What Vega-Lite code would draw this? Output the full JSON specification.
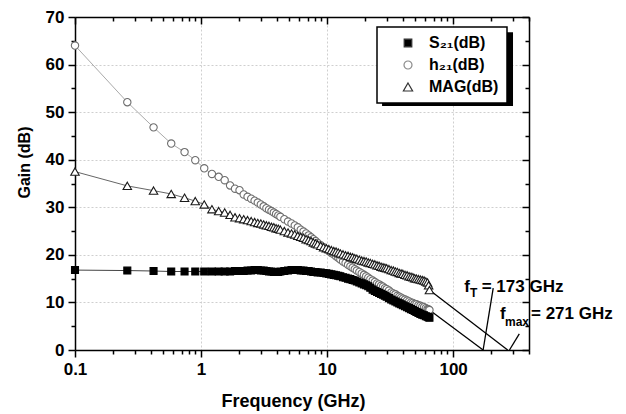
{
  "$schema": "https://vega.github.io/schema/vega-lite/v6.json",
  "width": 454,
  "height": 333,
  "autosize": {"type": "none"},
  "padding": {"left": 75, "top": 17, "right": 97, "bottom": 64},
  "background": "white",
  "config": {
    "font": "Liberation Sans",
    "view": {"stroke": null},
    "axis": {
      "domainColor": "black", "domainWidth": 1.5,
      "tickColor": "black", "tickWidth": 1.5,
      "labelFont": "Liberation Sans", "labelFontSize": 17, "labelFontWeight": "bold", "labelColor": "black",
      "titleFont": "Liberation Sans", "titleFontWeight": "bold", "titleColor": "black",
      "gridColor": "#cfcfcf", "gridDash": [2, 2], "gridWidth": 1
    }
  },
  "datasets": {
    "meas": [
      {"f": 0.1, "S21": 16.8, "h21": 64.0, "MAG": 37.5},
      {"f": 0.26, "S21": 16.7, "h21": 52.1, "MAG": 34.5},
      {"f": 0.42, "S21": 16.6, "h21": 46.8, "MAG": 33.5},
      {"f": 0.58, "S21": 16.5, "h21": 43.4, "MAG": 32.8},
      {"f": 0.74, "S21": 16.5, "h21": 41.6, "MAG": 32.0},
      {"f": 0.9, "S21": 16.5, "h21": 39.9, "MAG": 31.3},
      {"f": 1.06, "S21": 16.5, "h21": 38.2, "MAG": 30.6},
      {"f": 1.22, "S21": 16.5, "h21": 37.0, "MAG": 29.6},
      {"f": 1.38, "S21": 16.5, "h21": 36.4, "MAG": 29.2},
      {"f": 1.54, "S21": 16.5, "h21": 35.7, "MAG": 28.9},
      {"f": 1.7, "S21": 16.5, "h21": 34.6, "MAG": 28.4},
      {"f": 1.86, "S21": 16.6, "h21": 33.9, "MAG": 27.9},
      {"f": 2.02, "S21": 16.6, "h21": 33.6, "MAG": 27.7},
      {"f": 2.18, "S21": 16.6, "h21": 32.7, "MAG": 27.5},
      {"f": 2.34, "S21": 16.7, "h21": 32.2, "MAG": 27.3},
      {"f": 2.5, "S21": 16.7, "h21": 31.8, "MAG": 27.1},
      {"f": 2.66, "S21": 16.8, "h21": 31.4, "MAG": 26.9},
      {"f": 2.82, "S21": 16.8, "h21": 31.0, "MAG": 26.7},
      {"f": 2.98, "S21": 16.7, "h21": 30.6, "MAG": 26.6},
      {"f": 3.14, "S21": 16.7, "h21": 30.2, "MAG": 26.4},
      {"f": 3.3, "S21": 16.6, "h21": 29.8, "MAG": 26.2},
      {"f": 3.46, "S21": 16.5, "h21": 29.5, "MAG": 26.1},
      {"f": 3.62, "S21": 16.5, "h21": 29.2, "MAG": 25.9},
      {"f": 3.78, "S21": 16.4, "h21": 28.9, "MAG": 25.8},
      {"f": 3.94, "S21": 16.4, "h21": 28.6, "MAG": 25.6},
      {"f": 4.1, "S21": 16.4, "h21": 28.3, "MAG": 25.5},
      {"f": 4.26, "S21": 16.5, "h21": 28.0, "MAG": 25.3},
      {"f": 4.58, "S21": 16.6, "h21": 27.5, "MAG": 25.0},
      {"f": 4.9, "S21": 16.7, "h21": 27.0, "MAG": 24.7},
      {"f": 5.22, "S21": 16.8, "h21": 26.6, "MAG": 24.5},
      {"f": 5.54, "S21": 16.8, "h21": 26.2, "MAG": 24.3},
      {"f": 5.86, "S21": 16.8, "h21": 25.8, "MAG": 24.0},
      {"f": 6.18, "S21": 16.7, "h21": 25.3, "MAG": 23.8},
      {"f": 6.5, "S21": 16.7, "h21": 24.9, "MAG": 23.6},
      {"f": 6.82, "S21": 16.6, "h21": 24.5, "MAG": 23.3},
      {"f": 7.14, "S21": 16.6, "h21": 24.1, "MAG": 23.1},
      {"f": 7.46, "S21": 16.5, "h21": 23.7, "MAG": 22.9},
      {"f": 7.78, "S21": 16.4, "h21": 23.3, "MAG": 22.6},
      {"f": 8.1, "S21": 16.4, "h21": 22.9, "MAG": 22.4},
      {"f": 8.42, "S21": 16.3, "h21": 22.5, "MAG": 22.2},
      {"f": 8.9, "S21": 16.3, "h21": 22.0, "MAG": 21.9},
      {"f": 9.38, "S21": 16.2, "h21": 21.6, "MAG": 21.6},
      {"f": 9.86, "S21": 16.1, "h21": 21.2, "MAG": 21.4},
      {"f": 10.34, "S21": 16.0, "h21": 20.8, "MAG": 21.2},
      {"f": 10.82, "S21": 15.9, "h21": 20.4, "MAG": 21.0},
      {"f": 11.3, "S21": 15.8, "h21": 20.1, "MAG": 20.8},
      {"f": 11.78, "S21": 15.7, "h21": 19.7, "MAG": 20.7},
      {"f": 12.26, "S21": 15.6, "h21": 19.4, "MAG": 20.5},
      {"f": 12.74, "S21": 15.5, "h21": 19.0, "MAG": 20.3},
      {"f": 13.38, "S21": 15.3, "h21": 18.6, "MAG": 20.1},
      {"f": 14.02, "S21": 15.2, "h21": 18.3, "MAG": 19.9},
      {"f": 14.66, "S21": 15.0, "h21": 17.9, "MAG": 19.8},
      {"f": 15.3, "S21": 14.9, "h21": 17.6, "MAG": 19.6},
      {"f": 15.94, "S21": 14.7, "h21": 17.3, "MAG": 19.5},
      {"f": 16.58, "S21": 14.6, "h21": 17.0, "MAG": 19.3},
      {"f": 17.22, "S21": 14.4, "h21": 16.7, "MAG": 19.2},
      {"f": 18.02, "S21": 14.2, "h21": 16.4, "MAG": 19.0},
      {"f": 18.82, "S21": 14.0, "h21": 16.1, "MAG": 18.8},
      {"f": 19.62, "S21": 13.8, "h21": 15.8, "MAG": 18.7},
      {"f": 20.42, "S21": 13.6, "h21": 15.5, "MAG": 18.6},
      {"f": 21.22, "S21": 13.4, "h21": 15.2, "MAG": 18.4},
      {"f": 22.02, "S21": 13.1, "h21": 14.9, "MAG": 18.3},
      {"f": 22.98, "S21": 12.7, "h21": 14.6, "MAG": 18.1},
      {"f": 23.94, "S21": 12.4, "h21": 14.3, "MAG": 18.0},
      {"f": 24.9, "S21": 12.2, "h21": 14.0, "MAG": 17.8},
      {"f": 25.86, "S21": 12.0, "h21": 13.8, "MAG": 17.7},
      {"f": 26.82, "S21": 11.8, "h21": 13.5, "MAG": 17.5},
      {"f": 27.78, "S21": 11.6, "h21": 13.3, "MAG": 17.4},
      {"f": 28.74, "S21": 11.4, "h21": 13.0, "MAG": 17.3},
      {"f": 29.7, "S21": 11.2, "h21": 12.8, "MAG": 17.2},
      {"f": 30.98, "S21": 10.9, "h21": 12.5, "MAG": 17.0},
      {"f": 32.26, "S21": 10.6, "h21": 12.1, "MAG": 16.8},
      {"f": 33.54, "S21": 10.4, "h21": 11.9, "MAG": 16.7},
      {"f": 34.82, "S21": 10.2, "h21": 11.7, "MAG": 16.5},
      {"f": 36.1, "S21": 10.0, "h21": 11.4, "MAG": 16.4},
      {"f": 37.38, "S21": 9.8, "h21": 11.2, "MAG": 16.2},
      {"f": 38.66, "S21": 9.6, "h21": 11.0, "MAG": 16.1},
      {"f": 39.94, "S21": 9.4, "h21": 10.8, "MAG": 16.0},
      {"f": 41.54, "S21": 9.2, "h21": 10.6, "MAG": 15.8},
      {"f": 43.14, "S21": 9.0, "h21": 10.4, "MAG": 15.7},
      {"f": 44.74, "S21": 8.8, "h21": 10.2, "MAG": 15.5},
      {"f": 46.34, "S21": 8.6, "h21": 10.0, "MAG": 15.4},
      {"f": 47.94, "S21": 8.4, "h21": 9.9, "MAG": 15.3},
      {"f": 49.54, "S21": 8.2, "h21": 9.7, "MAG": 15.1},
      {"f": 51.14, "S21": 8.0, "h21": 9.6, "MAG": 15.0},
      {"f": 53.06, "S21": 7.8, "h21": 9.4, "MAG": 14.9},
      {"f": 54.98, "S21": 7.6, "h21": 9.3, "MAG": 14.8},
      {"f": 56.9, "S21": 7.4, "h21": 9.1, "MAG": 14.7},
      {"f": 58.82, "S21": 7.3, "h21": 9.0, "MAG": 14.6},
      {"f": 60.74, "S21": 7.1, "h21": 8.8, "MAG": 14.4},
      {"f": 62.66, "S21": 7.0, "h21": 8.6, "MAG": 14.2},
      {"f": 63.94, "S21": 6.9, "h21": 8.5, "MAG": 13.6},
      {"f": 64.9, "S21": 6.8, "h21": 8.4, "MAG": 12.6}
    ],
    "extrap": [
      {"f": 64.9, "g": 8.4, "grp": "fT"},
      {"f": 173, "g": 0, "grp": "fT"},
      {"f": 64.9, "g": 12.6, "grp": "fmax"},
      {"f": 271, "g": 0, "grp": "fmax"}
    ],
    "arrows": [
      {"f1": 173, "g1": 0, "f2": 208, "g2": 13.0},
      {"f1": 280, "g1": 0, "f2": 335, "g2": 3.4}
    ],
    "notes": [
      {"f": 122.7, "g": 12.1, "txt": "f", "kind": "main"},
      {"f": 136.2, "g": 11.1, "txt": "T", "kind": "sub"},
      {"f": 168.5, "g": 12.1, "txt": "= 173 GHz", "kind": "main"},
      {"f": 235.5, "g": 6.45, "txt": "f", "kind": "main"},
      {"f": 258, "g": 5.05, "txt": "max", "kind": "sub"},
      {"f": 415, "g": 6.45, "txt": "= 271 GHz", "kind": "main"}
    ]
  },
  "layer": [
    {
      "data": {"values": [{"box": "shadow"}]},
      "mark": {"type": "rect", "color": "black"},
      "encoding": {
        "x": {"datum": 27.3, "type": "quantitative", "axis": null},
        "x2": {"datum": 298.7},
        "y": {"datum": 66.8, "type": "quantitative", "axis": null},
        "y2": {"datum": 51.3}
      }
    },
    {
      "data": {"name": "meas"},
      "transform": [{"fold": ["S21", "h21", "MAG"], "as": ["series", "gain"]}],
      "mark": {"type": "line", "strokeWidth": 1},
      "encoding": {
        "x": {
          "field": "f", "type": "quantitative",
          "scale": {"type": "log", "domain": [0.1, 400], "nice": false},
          "axis": {
            "orient": "bottom",
            "values": [0.1,0.2,0.3,0.4,0.5,0.6,0.7,0.8,0.9,1,2,3,4,5,6,7,8,9,10,20,30,40,50,60,70,80,90,100,200,300,400],
            "labelExpr": "datum.value === 0.1 ? '0.1' : datum.value === 1 ? '1' : datum.value === 10 ? '10' : datum.value === 100 ? '100' : ''",
            "tickSize": {"condition": {"test": "datum.value === 0.1 || datum.value === 1 || datum.value === 10 || datum.value === 100", "value": 7}, "value": 4},
            "grid": true,
            "gridOpacity": {"condition": {"test": "datum.value === 1 || datum.value === 10 || datum.value === 100", "value": 1}, "value": 0},
            "labelFlush": false, "labelOverlap": false, "labelPadding": 4,
            "title": "Frequency (GHz)", "titleFontSize": 18,
            "titleX": 218, "titleY": 56, "titleBaseline": "alphabetic"
          }
        },
        "y": {
          "field": "gain", "type": "quantitative",
          "scale": {"domain": [0, 70], "nice": false, "zero": false},
          "axis": {
            "orient": "left",
            "values": [0,5,10,15,20,25,30,35,40,45,50,55,60,65,70],
            "labelExpr": "datum.value % 10 === 0 ? datum.label : ''",
            "tickSize": {"condition": {"test": "datum.value % 10 === 0", "value": 7}, "value": 4},
            "grid": true,
            "gridOpacity": {"condition": {"test": "datum.value % 10 === 0 && datum.value > 0 && datum.value < 70", "value": 1}, "value": 0},
            "labelPadding": 4, "labelOverlap": false,
            "title": "Gain (dB)", "titleFontSize": 16,
            "titleX": -43, "titleY": 145
          }
        },
        "detail": {"field": "series", "type": "nominal"},
        "color": {
          "condition": [
            {"test": "datum.series === 'S21'", "value": "#444444"},
            {"test": "datum.series === 'h21'", "value": "#aaaaaa"}
          ],
          "value": "#666666"
        }
      }
    },
    {
      "data": {"name": "extrap"},
      "mark": {"type": "line", "color": "black", "strokeWidth": 1.3},
      "encoding": {
        "x": {
          "field": "f", "type": "quantitative",
          "axis": {
            "orient": "top",
            "values": [0.1,0.2,0.3,0.4,0.5,0.6,0.7,0.8,0.9,1,2,3,4,5,6,7,8,9,10,20,30,40,50,60,70,80,90,100,200,300,400],
            "labels": false, "grid": false, "title": null,
            "tickSize": {"condition": {"test": "datum.value === 0.1 || datum.value === 1 || datum.value === 10 || datum.value === 100", "value": -7}, "value": -4}
          }
        },
        "y": {
          "field": "g", "type": "quantitative",
          "axis": {
            "orient": "right",
            "values": [0,5,10,15,20,25,30,35,40,45,50,55,60,65,70],
            "labels": false, "grid": false, "title": null,
            "tickSize": {"condition": {"test": "datum.value % 10 === 0", "value": -7}, "value": -4}
          }
        },
        "detail": {"field": "grp", "type": "nominal"}
      }
    },
    {
      "data": {"name": "arrows"},
      "mark": {"type": "rule", "color": "black", "strokeWidth": 1.3},
      "encoding": {
        "x": {"field": "f1", "type": "quantitative", "axis": null},
        "y": {"field": "g1", "type": "quantitative", "axis": null},
        "x2": {"field": "f2"},
        "y2": {"field": "g2"}
      }
    },
    {
      "data": {"name": "meas"},
      "transform": [{"fold": ["S21", "h21", "MAG"], "as": ["series", "gain"]}],
      "mark": {"type": "point", "filled": true, "strokeWidth": 1.1, "opacity": 1, "size": 54},
      "encoding": {
        "x": {"field": "f", "type": "quantitative", "axis": null},
        "y": {"field": "gain", "type": "quantitative", "axis": null},
        "order": {"field": "series", "sort": "descending"},
        "shape": {
          "field": "series", "type": "nominal",
          "scale": {"domain": ["S21", "h21", "MAG"], "range": ["M-0.95,-0.95H0.95V0.95H-0.95Z", "M-1,0A1,1,0,1,0,1,0A1,1,0,1,0,-1,0Z", "M0,-1L1.15,1L-1.15,1Z"]},
          "legend": {
            "orient": "none", "legendX": 302, "legendY": 10, "zindex": 5,
            "title": null,
            "labelExpr": "datum.label === 'S21' ? 'S₂₁(dB)' : datum.label === 'h21' ? 'h₂₁(dB)' : 'MAG(dB)'",
            "labelFont": "Liberation Sans", "labelFontSize": 16, "labelFontWeight": "bold", "labelColor": "black",
            "symbolSize": 100, "symbolOffset": 15, "labelOffset": 13,
            "rowPadding": 6, "padding": 8,
            "fillColor": "white", "strokeColor": "black",
            "encoding": {
              "legend": {"strokeWidth": {"value": 1.5}},
              "symbols": {
                "fill": {"condition": {"test": "datum.value === 'S21'", "value": "black"}, "value": "white"},
                "stroke": {
                  "condition": [
                    {"test": "datum.value === 'S21'", "value": "#333333"},
                    {"test": "datum.value === 'h21'", "value": "#8a8a8a"}
                  ],
                  "value": "#333333"
                },
                "strokeWidth": {"value": 1.2},
                "size": {"value": 64},
                "opacity": {"value": 1}
              }
            }
          }
        },
        "fill": {
          "condition": {"test": "datum.series === 'S21'", "value": "black"},
          "value": "white"
        },
        "stroke": {
          "condition": [
            {"test": "datum.series === 'S21'", "value": "black"},
            {"test": "datum.series === 'h21'", "value": "#6e6e6e"}
          ],
          "value": "#1a1a1a"
        }
      }
    },
    {
      "data": {"name": "notes"},
      "transform": [{"filter": "datum.kind === 'main'"}],
      "mark": {"type": "text", "align": "left", "baseline": "alphabetic", "fontSize": 17, "fontWeight": "bold", "font": "Liberation Sans", "color": "black"},
      "encoding": {
        "x": {"field": "f", "type": "quantitative", "axis": null},
        "y": {"field": "g", "type": "quantitative", "axis": null},
        "text": {"field": "txt"}
      }
    },
    {
      "data": {"name": "notes"},
      "transform": [{"filter": "datum.kind === 'sub'"}],
      "mark": {"type": "text", "align": "left", "baseline": "alphabetic", "fontSize": 12, "fontWeight": "bold", "font": "Liberation Sans", "color": "black"},
      "encoding": {
        "x": {"field": "f", "type": "quantitative", "axis": null},
        "y": {"field": "g", "type": "quantitative", "axis": null},
        "text": {"field": "txt"}
      }
    }
  ],
  "resolve": {"scale": {"x": "shared", "y": "shared"}, "axis": {"x": "independent", "y": "independent"}}
}
